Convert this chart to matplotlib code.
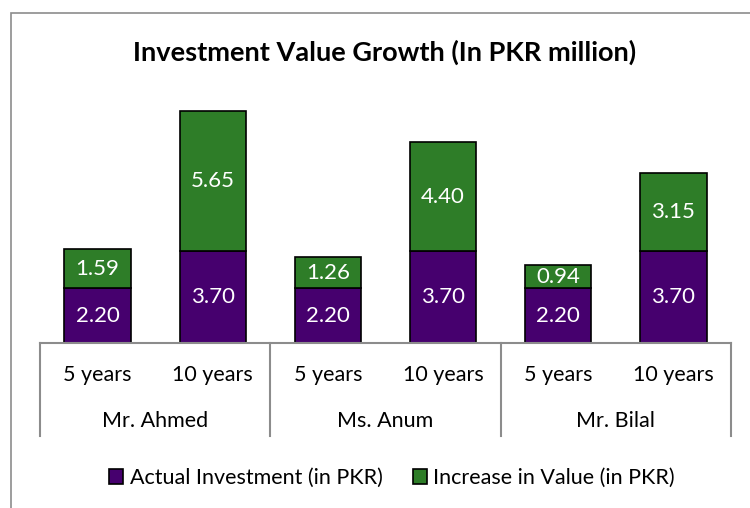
import matplotlib.pyplot as plt
from matplotlib.patches import Patch, Rectangle
from matplotlib.lines import Line2D
from matplotlib.transforms import blended_transform_factory

plt.rcParams['font.family'] = ['Lato', 'DejaVu Sans']

# данні
people = ['Mr. Ahmed', 'Ms. Anum', 'Mr. Bilal']
periods = ['5 years', '10 years']
actual = [2.20, 3.70, 2.20, 3.70, 2.20, 3.70]
increase = [1.59, 5.65, 1.26, 4.40, 0.94, 3.15]

purple = '#46006E'
green = '#2E7D28'

W, H = 750, 508
fig = plt.figure(figsize=(W / 100, H / 100), dpi=100)

# рамка діаграми (обрізана справа і знизу)
fig.patches.append(Rectangle((11 / W, -0.1), 1.2, (H - 13) / H + 0.1, transform=fig.transFigure,
                             fill=False, edgecolor='#8c8c8c', linewidth=1.2))

top_px = 60
base_px = 343
ax = fig.add_axes([40 / W, (H - base_px) / H, (731 - 40) / W, (base_px - top_px) / H])
ppu = 24.8
ax.set_ylim(0, (base_px - top_px) / ppu)
ax.set_xlim(-0.5, 5.5)

x = list(range(len(actual)))
ax.bar(x, actual, width=0.575, color=purple, edgecolor='black', linewidth=1.2, zorder=2)
bottoms = actual
ax.bar(x, increase, width=0.575, bottom=bottoms, color=green, edgecolor='black', linewidth=1.2, zorder=2)

for i in x:
    ax.text(i, actual[i] / 2, f'{actual[i]:.2f}', ha='center', va='center', color='white', fontsize=16)
    ax.text(i, actual[i] + increase[i] / 2, f'{increase[i]:.2f}', ha='center', va='center',
            color='white', fontsize=16)

for s in ax.spines.values():
    s.set_visible(False)
ax.set_xticks([])
ax.set_yticks([])
ax.patch.set_alpha(0)

# багаторівнева вісь категорій
tr = blended_transform_factory(ax.transData, fig.transFigure)
y_axis = (H - base_px) / H
y_bot = (H - 436) / H
fig.add_artist(Line2D([-0.5, 5.5], [y_axis, y_axis], transform=tr, color='#8c8c8c', linewidth=1.5))
for d in [-0.5, 1.5, 3.5, 5.5]:
    fig.add_artist(Line2D([d, d], [y_axis, y_bot], transform=tr, color='#8c8c8c', linewidth=1.5))

for i in x:
    fig.text(i, (H - 375) / H, periods[i % 2], transform=tr, ha='center', va='center', fontsize=15.5)
for j, p in enumerate(people):
    fig.text(2 * j + 0.5, (H - 421) / H, p, transform=tr, ha='center', va='center', fontsize=15.5)

fig.text(385 / W, (H - 52) / H, 'Investment Value Growth (In PKR million)', ha='center', va='center',
         fontsize=19.5, fontweight='bold')

handles = [Patch(facecolor=purple, edgecolor='black', linewidth=1.2),
           Patch(facecolor=green, edgecolor='black', linewidth=1.2)]
fig.legend(handles, ['Actual Investment (in PKR)', 'Increase in Value (in PKR)'], loc='center',
           bbox_to_anchor=(392 / W, (H - 478) / H), ncol=2, frameon=False, fontsize=15.5,
           handlelength=0.65, handleheight=0.65, handletextpad=0.3, columnspacing=1.4)

fig.savefig('out.png', dpi=100)
